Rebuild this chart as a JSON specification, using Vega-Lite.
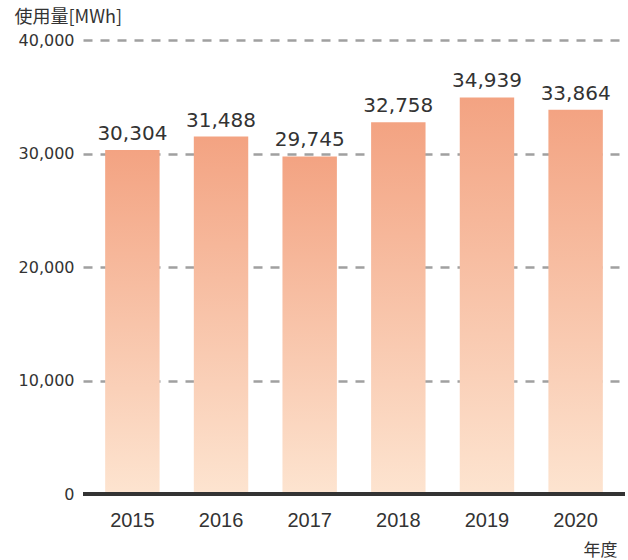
{
  "$schema": "https://vega.github.io/schema/vega-lite/v6.json",
  "width": 542,
  "height": 454,
  "autosize": "none",
  "padding": {"left": 83, "top": 40, "right": 3, "bottom": 66},
  "background": "#ffffff",
  "config": {"view": {"stroke": null}},
  "data": {"values": [
    {"year": "2015", "value": 30304},
    {"year": "2016", "value": 31488},
    {"year": "2017", "value": 29745},
    {"year": "2018", "value": 32758},
    {"year": "2019", "value": 34939},
    {"year": "2020", "value": 33864}
  ]},
  "encoding": {
    "x": {"field": "year", "type": "nominal", "sort": null,
      "scale": {"paddingInner": 0.386, "paddingOuter": 0.25},
      "axis": {"title": "年度", "titleFont": "Noto Sans CJK JP", "titleFontSize": 17, "titleFontWeight": "normal", "titleColor": "#333333",
        "titleX": 517, "titleY": 56, "titleAlign": "center", "titleBaseline": "middle",
        "labelAngle": 0, "labelFont": "Liberation Sans", "labelFontSize": 20, "labelColor": "#333333", "labelPadding": 16,
        "ticks": false, "domain": false}
    },
    "y": {"field": "value", "type": "quantitative",
      "scale": {"domain": [0, 40000], "nice": false},
      "axis": {"title": "使用量[MWh]", "titleFont": "Noto Sans CJK JP", "titleFontSize": 18, "titleFontWeight": "normal", "titleColor": "#333333",
        "titleAngle": 0, "titleX": -69, "titleY": -23, "titleAlign": "left", "titleBaseline": "middle",
        "values": [0, 10000, 20000, 30000, 40000], "format": ",.0f",
        "labelFont": "DejaVu Sans", "labelFontSize": 16, "labelColor": "#333333", "labelPadding": 9,
        "ticks": false, "domain": false,
        "grid": true, "gridColor": "#a0a0a0", "gridWidth": 2.5, "gridDash": [9, 8]}
    }
  },
  "layer": [
    {"mark": {"type": "bar", "color": {"gradient": "linear", "x1": 0, "y1": 0, "x2": 0, "y2": 1,
      "stops": [{"offset": 0, "color": "#f3a382"}, {"offset": 1, "color": "#fde4d0"}]}}},
    {"mark": {"type": "text", "baseline": "alphabetic", "dy": -10, "font": "DejaVu Sans", "fontSize": 20, "color": "#333333"},
      "encoding": {"text": {"field": "value", "type": "quantitative", "format": ",.0f"}}},
    {"mark": {"type": "rule", "color": "#333333", "strokeWidth": 4},
      "encoding": {"y": {"datum": 0}, "x": {"value": 0}, "x2": {"value": 542}}}
  ]
}
